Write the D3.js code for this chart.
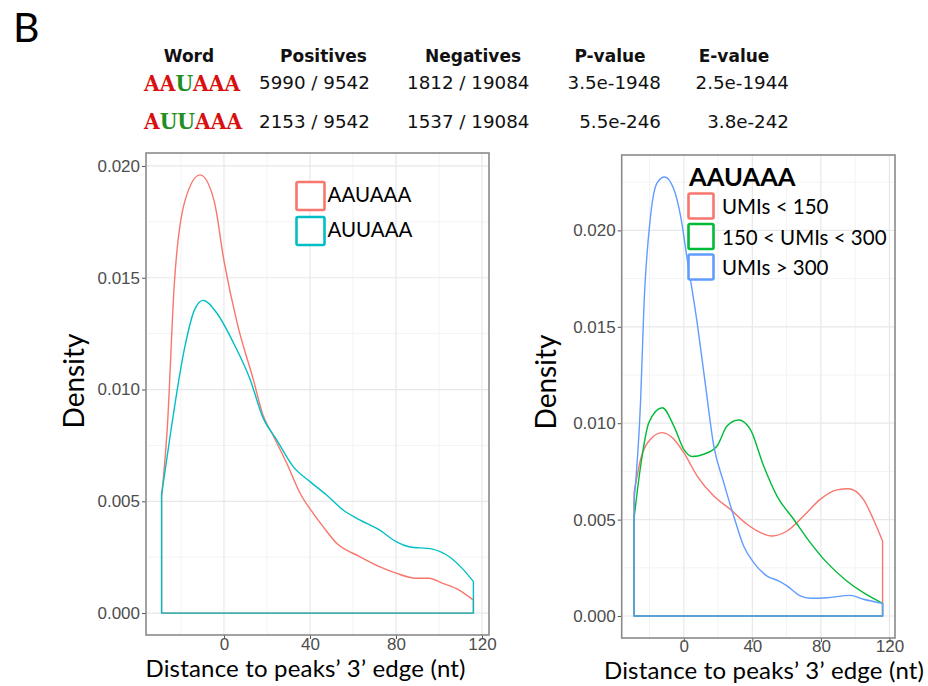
<!DOCTYPE html>
<html><head><meta charset="utf-8">
<script src="https://cdn.jsdelivr.net/npm/d3@7"></script>
<style>body{margin:0;background:#fff}svg{display:block}</style>
</head><body><svg id="c" width="928" height="686"></svg>
<script>
// ---------- data ----------
const headerLabels = ["Word", "Positives", "Negatives", "P-value", "E-value"];
const words = ["AAUAAA", "AUUAAA"];
const positives = ["5990 / 9542", "2153 / 9542"];
const negatives = ["1812 / 19084", "1537 / 19084"];
const pValues = ["3.5e-1948", "5.5e-246"];
const eValues = ["2.5e-1944", "3.8e-242"];

const xTicks = [0, 40, 80, 120];
const xMinorTicks = [-20, 20, 60, 100];
const yTicks = [0, 0.005, 0.010, 0.015, 0.020];
const yMinorTicksLeft = [0.0025, 0.0075, 0.0125, 0.0175];
const yMinorTicksRight = [0.0025, 0.0075, 0.0125, 0.0175, 0.0225];
const xTitle = "Distance to peaks\u2019 3\u2019 edge (nt)";
const yTitle = "Density";

const leftNames = ["AAUAAA", "AUUAAA"];
const rightTitle = "AAUAAA";
const rightNames = ["UMIs < 150", "150 < UMIs < 300", "UMIs > 300"];

// density curves: [distance, density]
const leftAAUAAA = [[-29,0.0052],[-26.4,0.0082],[-23.1,0.0147],[-18.1,0.01845],[-11.1,0.0196],[-4.6,0.01845],[0,0.01577],[6.2,0.01295],[13.8,0.0104],[18,0.0089],[23.1,0.0079],[29.2,0.0067],[35.4,0.00536],[41.5,0.00446],[46.1,0.00387],[52.3,0.00313],[63.1,0.00253],[72.3,0.00208],[80,0.00179],[89.2,0.00156],[95.4,0.00156],[101.5,0.00134],[109.2,0.00104],[116,0.00058]];
const leftAUUAAA = [[-29,0.0053],[-24.6,0.0082],[-18.5,0.01176],[-13.8,0.01354],[-9.7,0.01399],[-3.1,0.01339],[4.6,0.01205],[12.3,0.01042],[17.9,0.0088],[24.6,0.00774],[32.3,0.00654],[40,0.00588],[47.7,0.00528],[55.4,0.00461],[63.1,0.00417],[72.3,0.00372],[80,0.0032],[86.1,0.00297],[96.9,0.00286],[104.6,0.00253],[110.8,0.0020],[116,0.00141]];
const rightLow = [[-29,0.0064],[-25.2,0.00813],[-19.4,0.00917],[-12.6,0.00951],[-5.8,0.00917],[0,0.00847],[7.8,0.00726],[17.5,0.00622],[27.2,0.00553],[36.9,0.00476],[44.7,0.00433],[51.5,0.00415],[60.2,0.00441],[69.9,0.00519],[79.6,0.00605],[89.3,0.00654],[96.1,0.00660],[104.8,0.00605],[110.6,0.00502],[116,0.00389]];
const rightMid = [[-29,0.0051],[-25.2,0.00778],[-20.4,0.01003],[-12.6,0.0108],[-5.8,0.00985],[0,0.00864],[4.9,0.00827],[11.6,0.00839],[19.4,0.00882],[25.2,0.00985],[32,0.01017],[38.8,0.00968],[46.6,0.00778],[54.4,0.00622],[64.1,0.00502],[73.8,0.00381],[83.5,0.00277],[95.1,0.00182],[104.8,0.00121],[116,0.00066]];
const rightHigh = [[-29,0.0060],[-25.2,0.0112],[-23.3,0.0160],[-19.4,0.02075],[-15.5,0.02248],[-11.2,0.02277],[-5.8,0.02213],[-1.9,0.02075],[2,0.0185],[7.8,0.0152],[12.6,0.0120],[17.5,0.00882],[23.3,0.00692],[29.1,0.00519],[34.9,0.00363],[40.8,0.00277],[48.6,0.00207],[55.3,0.00182],[60.2,0.00156],[68,0.00104],[73.8,0.00092],[83.5,0.00095],[97.1,0.00107],[104.8,0.00087],[116,0.00066]];

const leftColors = ["#F8766D", "#00BFC4"];
const rightColors = ["#F8766D", "#00BA38", "#619CFF"];

// ---------- drawing ----------
const svg = d3.select("#c");
const SANS = "'Liberation Sans', Arial, sans-serif";
const CAL = "Lato, 'Open Sans', sans-serif";

// panel label
svg.append("text").attr("x", 13).attr("y", 42).attr("font-family", CAL)
  .attr("font-size", 41).attr("fill", "#000").text("B");

// header table
const colCenters = [189, 323.5, 473, 610, 734];
svg.selectAll("text.hdr").data(headerLabels).join("text").attr("class", "hdr")
  .attr("x", (d, i) => colCenters[i]).attr("y", 62).attr("text-anchor", "middle")
  .attr("font-family", "'DejaVu Sans', Verdana, sans-serif").attr("font-weight", "bold")
  .attr("font-size", 17).attr("fill", "#111").text(d => d);

const rowY = [89, 127.5];
words.forEach((w, r) => {
  const t = svg.append("text").attr("transform", `translate(144,${rowY[r] + 1.5}) scale(0.9,1)`)
    .attr("font-family", "'DejaVu Serif', serif").attr("font-weight", "bold")
    .attr("font-size", 22.5);
  w.split("").forEach(ch => t.append("tspan").attr("fill", ch === "U" ? "#1F8F1F" : "#D81010").text(ch));
});
const numFont = "'DejaVu Sans', Verdana, sans-serif";
function col(arr, x, anchor) {
  arr.forEach((v, r) => svg.append("text").attr("x", x).attr("y", rowY[r]).attr("text-anchor", anchor)
    .attr("font-family", numFont).attr("font-size", 18.3).attr("fill", "#111").text(v));
}
col(positives, 259, "start");
col(negatives, 407, "start");
col(pValues, 661, "end");
col(eValues, 789, "end");

// panels
function panel(cfg) {
  const x = d3.scaleLinear().domain([-36.25, 123.25]).range([cfg.left, cfg.right]);
  const y = d3.scaleLinear().domain(cfg.yDomain).range([cfg.bottom, cfg.top]);
  const g = svg.append("g");
  // minor grid
  g.selectAll("line.mx").data(xMinorTicks).join("line")
    .attr("x1", d => x(d)).attr("x2", d => x(d)).attr("y1", cfg.top).attr("y2", cfg.bottom)
    .attr("stroke", "#F3F3F3").attr("stroke-width", 1);
  g.selectAll("line.my").data(cfg.yMinor).join("line")
    .attr("y1", d => y(d)).attr("y2", d => y(d)).attr("x1", cfg.left).attr("x2", cfg.right)
    .attr("stroke", "#F3F3F3").attr("stroke-width", 1);
  // major grid
  g.selectAll("line.gx").data(xTicks).join("line")
    .attr("x1", d => x(d)).attr("x2", d => x(d)).attr("y1", cfg.top).attr("y2", cfg.bottom)
    .attr("stroke", "#E8E8E8").attr("stroke-width", 1.2);
  g.selectAll("line.gy").data(yTicks).join("line")
    .attr("y1", d => y(d)).attr("y2", d => y(d)).attr("x1", cfg.left).attr("x2", cfg.right)
    .attr("stroke", "#E8E8E8").attr("stroke-width", 1.2);

  // curves
  const line = d3.line().x(d => x(d[0])).y(d => y(d[1])).curve(d3.curveMonotoneX);
  cfg.series.forEach((s, i) => {
    const first = s[0], last = s[s.length - 1];
    const body = line(s).replace(/^M/, "L");
    const p = `M${x(first[0])},${y(0)}` + body + `L${x(last[0])},${y(0)}Z`;
    g.append("path").attr("d", p).attr("fill", "none").attr("stroke", cfg.colors[i])
      .attr("stroke-width", 1.4).attr("stroke-linejoin", "round");
  });

  // axes
  const ax = d3.axisBottom(x).tickValues(xTicks).tickSize(4).tickPadding(3).tickFormat(d3.format("d"));
  const gx = svg.append("g").attr("transform", `translate(0,${cfg.bottom})`).call(ax);
  const ay = d3.axisLeft(y).tickValues(yTicks).tickSize(4).tickPadding(2).tickFormat(d3.format(".3f"));
  const gy = svg.append("g").attr("transform", `translate(${cfg.left},0)`).call(ay);
  [gx, gy].forEach(a => {
    a.select(".domain").remove();
    a.selectAll(".tick line").attr("stroke", "#555").attr("stroke-width", 1);
    a.selectAll(".tick text").attr("font-family", SANS).attr("font-size", 17).attr("fill", "#4D4D4D");
  });
  gx.selectAll(".tick text").attr("dy", null).attr("y", cfg.xTickY);
  // border
  svg.append("rect").attr("x", cfg.left).attr("y", cfg.top)
    .attr("width", cfg.right - cfg.left).attr("height", cfg.bottom - cfg.top)
    .attr("fill", "none").attr("stroke", "#8A8A8A").attr("stroke-width", 1.6);

  // titles
  svg.append("text").attr("x", cfg.xTitleX).attr("y", cfg.xTitleY).attr("text-anchor", "middle")
    .attr("font-family", CAL).attr("font-size", 24).attr("textLength", 320).attr("lengthAdjust", "spacing")
    .attr("fill", "#000").text(xTitle);
  svg.append("text").attr("transform", `translate(${cfg.yTitleX},${cfg.yTitleY}) rotate(-90)`)
    .attr("text-anchor", "middle").attr("font-family", CAL).attr("font-size", 28)
    .attr("fill", "#000").text(yTitle);
  return { x, y };
}

panel({ left: 146, right: 489, top: 153, bottom: 635, yDomain: [-0.00098, 0.02058],
  yMinor: yMinorTicksLeft, series: [leftAAUAAA, leftAUUAAA], colors: leftColors, xTickY: 15,
  xTitleX: 305.5, xTitleY: 677, yTitleX: 84, yTitleY: 381 });
panel({ left: 621.7, right: 895, top: 155, bottom: 638, yDomain: [-0.00114, 0.02391],
  yMinor: yMinorTicksRight, series: [rightLow, rightMid, rightHigh], colors: rightColors, xTickY: 14,
  xTitleX: 764, xTitleY: 679, yTitleX: 556, yTitleY: 382 });

// left legend
leftNames.forEach((n, i) => {
  const yy = 182 + i * 35;
  svg.append("rect").attr("x", 296.5).attr("y", yy).attr("width", 28).attr("height", 28).attr("rx", 1.5)
    .attr("fill", "#fff").attr("stroke", leftColors[i]).attr("stroke-width", 2.6);
  svg.append("text").attr("x", 327.5).attr("y", yy + 19.5).attr("font-family", CAL)
    .attr("font-size", 20.5).attr("fill", "#000").text(n);
});

// right legend
svg.append("text").attr("x", 689).attr("y", 185.5).attr("font-family", CAL).attr("font-weight", "bold")
  .attr("font-size", 25.5).attr("fill", "#000").text(rightTitle);
rightNames.forEach((n, i) => {
  const yy = 193.5 + i * 30.5;
  svg.append("rect").attr("x", 688.5).attr("y", yy).attr("width", 25).attr("height", 25).attr("rx", 1.5)
    .attr("fill", "#fff").attr("stroke", rightColors[i]).attr("stroke-width", 2.6);
  svg.append("text").attr("x", 722).attr("y", yy + 20.5).attr("font-family", CAL)
    .attr("font-size", 20.5).attr("fill", "#000").text(n);
});
</script></body></html>
